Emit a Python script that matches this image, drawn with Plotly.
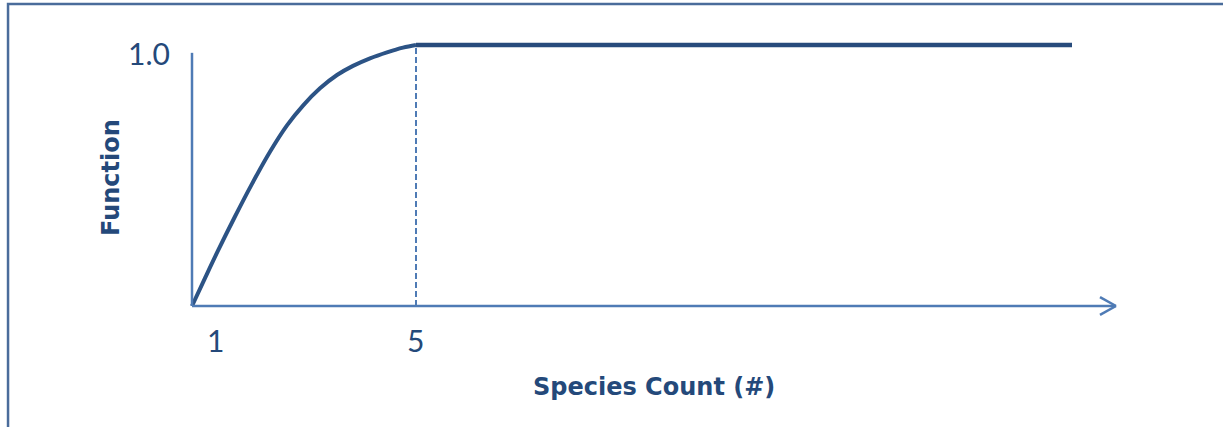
import plotly.graph_objects as go

# Data (x: species count, y: relative function)
curve_x = [0.54, 0.80, 1.06, 1.40, 1.74, 2.10, 2.44, 2.76, 3.10, 3.44, 3.76, 4.10, 4.44, 4.76, 5.02]
curve_y = [0.0, 0.107, 0.212, 0.343, 0.468, 0.591, 0.692, 0.768, 0.834, 0.885, 0.920, 0.949, 0.972, 0.990, 1.0]
plateau_x = [5.02, 18.14]
plateau_y = [1.0, 1.0]
threshold_x = 5.02
axis_origin_x = 0.54
axis_end_x = 19.02
yaxis_top = 0.97
x_tick_vals = [1, 5]
x_tick_text = ["1", "5"]
y_tick_vals = [0.97]
y_tick_text = ["1.0"]

DARK = "#2C5385"
FLAT = "#284B7C"
AXIS = "#4F7BB5"
TEXT = "#24497A"
NUM_FONT = "Lato"
TITLE_FONT = "DejaVu Sans"

fig = go.Figure()
fig.add_trace(go.Scatter(x=curve_x, y=curve_y, mode="lines",
                         line=dict(color=DARK, width=4, shape="spline", smoothing=1),
                         hoverinfo="skip", showlegend=False))
fig.add_trace(go.Scatter(x=plateau_x, y=plateau_y, mode="lines",
                         line=dict(color=FLAT, width=4.5),
                         hoverinfo="skip", showlegend=False))

shapes = []
shapes.append(dict(type="line", xref="x", yref="y", x0=threshold_x, x1=threshold_x,
                   y0=0, y1=1.0, line=dict(color=AXIS, width=2, dash="6px,3px")))
shapes.append(dict(type="line", xref="x", yref="y", x0=axis_origin_x, x1=axis_origin_x,
                   y0=0, y1=yaxis_top, line=dict(color=AXIS, width=2.5)))
shapes.append(dict(type="line", xref="x", yref="y", x0=axis_origin_x, x1=axis_end_x,
                   y0=0, y1=0, line=dict(color=AXIS, width=2.5)))
shapes.append(dict(type="line", xref="x", yref="y", x0=axis_end_x - 0.32, x1=axis_end_x,
                   y0=0.034, y1=0, line=dict(color=AXIS, width=2.5)))
shapes.append(dict(type="line", xref="x", yref="y", x0=axis_end_x - 0.32, x1=axis_end_x,
                   y0=-0.034, y1=0, line=dict(color=AXIS, width=2.5)))
shapes.append(dict(type="rect", xref="paper", yref="paper",
                   x0=-0.1434, x1=1.095, y0=-0.35, y1=1.0516,
                   line=dict(color="#4A6C9B", width=2.5), fillcolor="rgba(0,0,0,0)"))

annotations = []
for v, t in zip(x_tick_vals, x_tick_text):
    annotations.append(dict(x=v, y=-0.055, xref="x", yref="y", text=t, showarrow=False,
                            xanchor="center", yanchor="top",
                            font=dict(family=NUM_FONT, size=30, color=TEXT)))
for v, t in zip(y_tick_vals, y_tick_text):
    annotations.append(dict(x=0.0222, y=v, xref="paper", yref="y", text=t, showarrow=False,
                            xanchor="right", yanchor="middle",
                            font=dict(family=NUM_FONT, size=30, color=TEXT)))
annotations.append(dict(x=(111 - 150) / 990, y=(330 - 178) / 310, xref="paper", yref="paper",
                        text="<b>Function</b>", showarrow=False, textangle=-90,
                        xanchor="center", yanchor="middle",
                        font=dict(family=TITLE_FONT, size=24, color=TEXT)))
annotations.append(dict(x=(654 - 150) / 990, y=(330 - 387) / 310, xref="paper", yref="paper",
                        text="<b>Species Count (#)</b>", showarrow=False,
                        xanchor="center", yanchor="middle",
                        font=dict(family=TITLE_FONT, size=24, color=TEXT)))

fig.update_layout(
    width=1223, height=427,
    margin=dict(l=150, r=83, t=20, b=97),
    paper_bgcolor="white", plot_bgcolor="white",
    xaxis=dict(range=[-0.3, 19.5], visible=False, fixedrange=True),
    yaxis=dict(range=[-0.092, 1.0958], visible=False, fixedrange=True),
    shapes=shapes, annotations=annotations, showlegend=False,
)

fig.write_html("out.html", config={"displayModeBar": False},
               post_script="document.body.style.margin='0';")
